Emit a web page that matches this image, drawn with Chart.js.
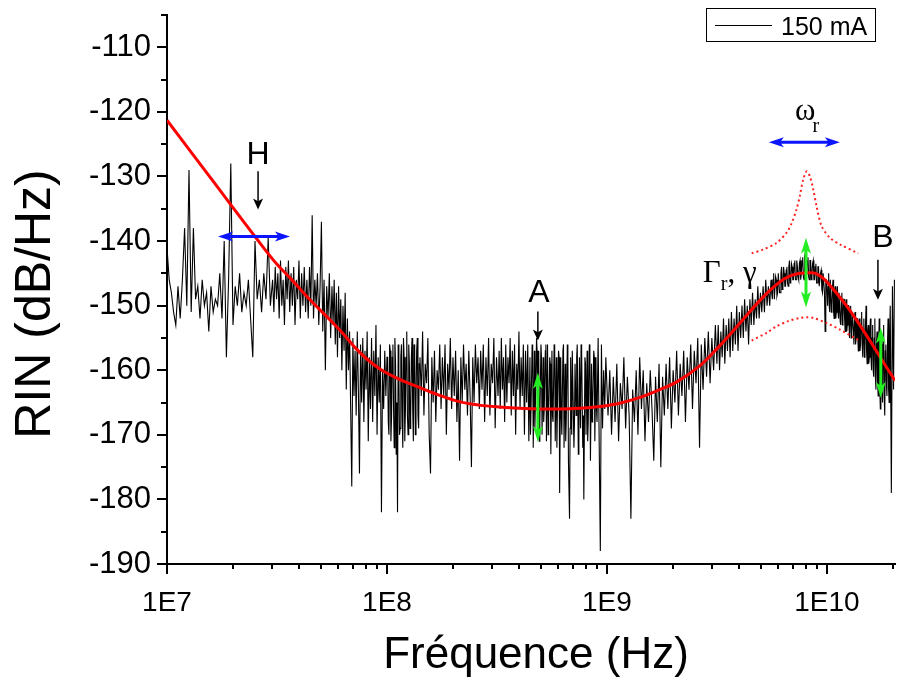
<!DOCTYPE html>
<html><head><meta charset="utf-8">
<script src="https://cdn.jsdelivr.net/npm/chart.js@4.4.1/dist/chart.umd.min.js"></script>
<style>html,body{margin:0;padding:0;background:#fff;}#wrap{width:898px;height:682px;}</style>
</head><body><div id="wrap"><canvas id="c" width="898" height="682"></canvas></div>
<script>
// ---------- DATA (log10 of frequency in Hz, RIN in dB/Hz) ----------
const seriesLabel = '150 mA';
const xTitle = 'Fréquence (Hz)';
const yTitle = 'RIN (dB/Hz)';
const xMajorTicks = [1e7, 1e8, 1e9, 1e10];
const xTickLabels = ['1E7', '1E8', '1E9', '1E10'];
const yMin = -190, yMax = -105;

const traceA = [[7.00,-141],[7.01,-146],[7.02,-148],[7.03,-151],[7.04,-153],[7.05,-147],[7.06,-152],[7.07,-146],[7.08,-138],[7.09,-150],[7.10,-129],[7.11,-151],[7.12,-138],[7.13,-149],[7.14,-147],[7.15,-152],[7.16,-146],[7.17,-150],[7.18,-148],[7.19,-154],[7.20,-147],[7.21,-151],[7.22,-149],[7.23,-150],[7.24,-145],[7.25,-152],[7.26,-140],[7.27,-158],[7.28,-146],[7.29,-128],[7.30,-153],[7.31,-147],[7.32,-150],[7.33,-145],[7.34,-151],[7.35,-148],[7.36,-150],[7.37,-146],[7.38,-152],[7.39,-158],[7.40,-140],[7.41,-149],[7.42,-146],[7.43,-151],[7.44,-145],[7.45,-149],[7.46,-139.5],[7.47,-150],[7.48,-146]];
const traceB = [[7.486,-151],[7.492,-144],[7.498,-149],[7.504,-145],[7.510,-152],[7.516,-143],[7.522,-150],[7.528,-146],[7.534,-153],[7.540,-144],[7.546,-149],[7.552,-143],[7.558,-151],[7.564,-145],[7.570,-150],[7.576,-144],[7.582,-153],[7.588,-146],[7.594,-149],[7.600,-143],[7.606,-152],[7.612,-145],[7.618,-150],[7.624,-144],[7.630,-151],[7.636,-146],[7.642,-152],[7.648,-144],[7.654,-150],[7.660,-136],[7.666,-152],[7.672,-146],[7.678,-150],[7.684,-145],[7.690,-153],[7.696,-147],[7.702,-137],[7.708,-154],[7.714,-146],[7.720,-160],[7.726,-147],[7.732,-152],[7.738,-145],[7.744,-155],[7.750,-147]];
const traceC = [[7.755,-153],[7.760,-146],[7.765,-156],[7.770,-148],[7.775,-158],[7.780,-147],[7.785,-155],[7.790,-149],[7.795,-160],[7.800,-150],[7.805,-157],[7.810,-148],[7.815,-163],[7.820,-152],[7.825,-160],[7.830,-154],[7.835,-166],[7.840,-178],[7.845,-155],[7.850,-164],[7.855,-157],[7.860,-167],[7.865,-154],[7.870,-163],[7.875,-176],[7.880,-156],[7.885,-165],[7.890,-155],[7.895,-168],[7.900,-157],[7.905,-163],[7.910,-154],[7.915,-171],[7.920,-158],[7.925,-166],[7.930,-155],[7.935,-168],[7.940,-157],[7.945,-164],[7.950,-153],[7.955,-170],[7.960,-158],[7.965,-165],[7.970,-156],[7.975,-182],[7.980,-160],[7.985,-166],[7.990,-157],[7.995,-164],[8.000,-158]];
const traceD = [[8.006,-168],[8.012,-156],[8.018,-171],[8.024,-158],[8.030,-166],[8.036,-155],[8.042,-173],[8.048,-182],[8.054,-160],[8.060,-169],[8.066,-156],[8.072,-172],[8.078,-158],[8.084,-166],[8.090,-154],[8.096,-170],[8.102,-159],[8.108,-167],[8.114,-155],[8.120,-171],[8.126,-157],[8.132,-165],[8.138,-155],[8.144,-169],[8.150,-158],[8.156,-164],[8.162,-154],[8.168,-167],[8.174,-159],[8.180,-162],[8.186,-155],[8.192,-170],[8.198,-176],[8.204,-158],[8.210,-165],[8.216,-157],[8.222,-168],[8.228,-160],[8.234,-163],[8.240,-156],[8.246,-166],[8.252,-158],[8.258,-164],[8.264,-156],[8.270,-170],[8.276,-159],[8.282,-163],[8.288,-155],[8.294,-166],[8.300,-158],[8.306,-164],[8.312,-157],[8.318,-168],[8.324,-160],[8.330,-174],[8.336,-158],[8.342,-165],[8.348,-156],[8.354,-163],[8.360,-159],[8.366,-167],[8.372,-157],[8.378,-164],[8.384,-175],[8.390,-158],[8.396,-165],[8.402,-156],[8.408,-162],[8.414,-158],[8.420,-166],[8.426,-157],[8.432,-163],[8.438,-156],[8.444,-168],[8.450,-158],[8.456,-164],[8.462,-155],[8.468,-167],[8.474,-159],[8.480,-162],[8.486,-155],[8.492,-169],[8.498,-158]];
const traceE = [[8.505,-164],[8.510,-157],[8.515,-166],[8.520,-155],[8.525,-163],[8.530,-158],[8.535,-168],[8.540,-156],[8.545,-165],[8.550,-158],[8.555,-162],[8.560,-155],[8.565,-167],[8.570,-157],[8.575,-164],[8.580,-156],[8.585,-170],[8.590,-159],[8.595,-163],[8.600,-154],[8.605,-166],[8.610,-158],[8.615,-164],[8.620,-156],[8.625,-170],[8.630,-157],[8.635,-165],[8.640,-156],[8.645,-171],[8.650,-158],[8.655,-166],[8.660,-156],[8.665,-172],[8.670,-157],[8.675,-165],[8.680,-155],[8.685,-169],[8.690,-157],[8.695,-168],[8.700,-156],[8.705,-170],[8.710,-158],[8.715,-166],[8.720,-157],[8.725,-171],[8.730,-156],[8.735,-167],[8.740,-158],[8.745,-173],[8.750,-157],[8.755,-168],[8.760,-156],[8.765,-171],[8.770,-158],[8.775,-166],[8.780,-157],[8.785,-179],[8.790,-158],[8.795,-170],[8.800,-157],[8.805,-172],[8.810,-159],[8.815,-168],[8.820,-156],[8.825,-174],[8.830,-183],[8.835,-158],[8.840,-170],[8.845,-157],[8.850,-172],[8.855,-159],[8.860,-167],[8.865,-156],[8.870,-173],[8.875,-158],[8.880,-169],[8.885,-157],[8.890,-172],[8.895,-180],[8.900,-158],[8.905,-170],[8.910,-157],[8.915,-168],[8.920,-156],[8.925,-174],[8.930,-159],[8.935,-166],[8.940,-157],[8.945,-171],[8.950,-158],[8.955,-168],[8.960,-155],[8.965,-172],[8.970,-188],[8.975,-156],[8.980,-169],[8.985,-160],[8.990,-166],[8.995,-158]];
const traceF = [[9.005,-167],[9.013,-160],[9.021,-170],[9.029,-161],[9.037,-168],[9.045,-159],[9.053,-171],[9.061,-162],[9.069,-166],[9.077,-158],[9.085,-169],[9.093,-161],[9.101,-167],[9.109,-183],[9.117,-163],[9.125,-168],[9.133,-160],[9.141,-170],[9.149,-158],[9.157,-166],[9.165,-160],[9.173,-171],[9.181,-162],[9.189,-168],[9.197,-160],[9.205,-166],[9.213,-174],[9.221,-161],[9.229,-168],[9.237,-159],[9.245,-175],[9.253,-161],[9.261,-167],[9.269,-159],[9.277,-166],[9.285,-158],[9.293,-169],[9.301,-160],[9.309,-165],[9.317,-157],[9.325,-167],[9.333,-159],[9.341,-164],[9.349,-157],[9.357,-168],[9.365,-158],[9.373,-163],[9.381,-156],[9.389,-166],[9.397,-157],[9.405,-162],[9.413,-155],[9.421,-172],[9.429,-156],[9.437,-163],[9.445,-155],[9.453,-161],[9.461,-154],[9.469,-162],[9.477,-155],[9.485,-160],[9.493,-153]];
const traceG = [[9.500,-159],[9.506,-153],[9.512,-160],[9.518,-154],[9.524,-158],[9.530,-152],[9.536,-159],[9.542,-153],[9.548,-157],[9.554,-152],[9.560,-158],[9.566,-151],[9.572,-157],[9.578,-152],[9.584,-156],[9.590,-150],[9.596,-157],[9.602,-151],[9.608,-155],[9.614,-150],[9.620,-155],[9.626,-149],[9.632,-154],[9.638,-150],[9.644,-156],[9.650,-149],[9.656,-153],[9.662,-148],[9.668,-153],[9.674,-149],[9.680,-152],[9.686,-147],[9.692,-152],[9.698,-148],[9.704,-151],[9.710,-147],[9.716,-151],[9.722,-146],[9.728,-150],[9.734,-147],[9.740,-150],[9.746,-146],[9.752,-149],[9.758,-145],[9.764,-149],[9.770,-146],[9.776,-148],[9.782,-145],[9.788,-148],[9.794,-144],[9.800,-147],[9.806,-145],[9.812,-147],[9.818,-144],[9.824,-147],[9.830,-143],[9.836,-146],[9.842,-144],[9.848,-146],[9.854,-143],[9.860,-146],[9.866,-144],[9.872,-146],[9.878,-143],[9.884,-145],[9.890,-142.5],[9.896,-146],[9.902,-143],[9.908,-145],[9.914,-142.5],[9.920,-146],[9.926,-143],[9.932,-145],[9.938,-143],[9.944,-146],[9.950,-143.5],[9.956,-146.5],[9.962,-144],[9.968,-147],[9.974,-144.5],[9.980,-148],[9.986,-145],[9.992,-154],[9.998,-146]];
const traceH = [[10.003,-150],[10.008,-145],[10.013,-151],[10.018,-146],[10.023,-150],[10.028,-146],[10.033,-152],[10.038,-147],[10.043,-151],[10.048,-147],[10.053,-152],[10.058,-148],[10.063,-153],[10.068,-148],[10.073,-152],[10.078,-149],[10.083,-154],[10.088,-149],[10.093,-153],[10.098,-150],[10.103,-155],[10.108,-150],[10.113,-154],[10.118,-151],[10.123,-156],[10.128,-151],[10.133,-155],[10.138,-152],[10.143,-157],[10.148,-152],[10.153,-156],[10.158,-151],[10.163,-158],[10.168,-152],[10.173,-157],[10.178,-150],[10.183,-159],[10.188,-153],[10.193,-158],[10.198,-152],[10.203,-160],[10.208,-153],[10.213,-161],[10.218,-152],[10.223,-163],[10.228,-154],[10.233,-164],[10.238,-152],[10.243,-166],[10.248,-155],[10.253,-165],[10.258,-153],[10.263,-167],[10.268,-156],[10.273,-164],[10.278,-152],[10.283,-165],[10.288,-150],[10.293,-179],[10.298,-147],[10.303,-163],[10.307,-146]];
// extra samples in the densest parts of the spectrum
const denseD = [[8.003,-158],[8.009,-170],[8.015,-157],[8.021,-167],[8.027,-156],[8.033,-172],[8.039,-159],[8.045,-165],[8.051,-156],[8.057,-170],[8.063,-158],[8.069,-166],[8.075,-155],[8.081,-171],[8.087,-158],[8.093,-167],[8.099,-156],[8.105,-169],[8.111,-158],[8.117,-166],[8.123,-156],[8.129,-170],[8.135,-157],[8.141,-167],[8.147,-159]];
const denseE = [[8.6525,-170],[8.6625,-158],[8.6725,-169],[8.6825,-157],[8.6925,-171],[8.7025,-158],[8.7125,-168],[8.7225,-156],[8.7325,-170],[8.7425,-159],[8.7525,-167],[8.7625,-157],[8.7725,-172],[8.7825,-158],[8.7925,-167],[8.8025,-156],[8.8125,-171],[8.8225,-158],[8.8325,-169],[8.8425,-157],[8.8525,-168],[8.8625,-158],[8.8725,-170],[8.8825,-156],[8.8925,-167],[8.9025,-159],[8.9125,-171],[8.9225,-157],[8.9325,-168],[8.9425,-158],[8.9525,-166]];
const denseG = [[9.749,-148],[9.755,-146],[9.761,-149],[9.767,-145.5],[9.773,-148.5],[9.779,-145],[9.785,-148],[9.791,-145],[9.797,-147.5],[9.803,-144],[9.809,-147],[9.815,-144.5],[9.821,-146.5],[9.827,-144],[9.833,-146.5],[9.839,-143.5],[9.845,-146],[9.851,-143.5],[9.857,-146],[9.863,-143],[9.869,-145.5],[9.875,-143.5],[9.881,-146],[9.887,-143],[9.893,-145.5],[9.899,-142.5],[9.905,-146],[9.911,-143],[9.917,-145.5],[9.923,-143],[9.929,-146],[9.935,-143.5],[9.941,-146],[9.947,-144],[9.953,-146.5],[9.959,-144],[9.965,-147],[9.971,-145],[9.977,-147.5],[9.983,-145],[9.989,-148],[9.995,-146]];
const denseH = [[10.0055,-147],[10.0105,-150],[10.0155,-146],[10.0205,-151],[10.0255,-147],[10.0305,-151],[10.0355,-147.5],[10.0405,-152],[10.0455,-148],[10.0505,-151],[10.0555,-148],[10.0605,-152.5],[10.0655,-149],[10.0705,-153],[10.0755,-149],[10.0805,-152],[10.0855,-150],[10.0905,-154],[10.0955,-150],[10.1005,-153],[10.1055,-151],[10.1105,-155],[10.1155,-151],[10.1205,-154],[10.1255,-152],[10.1305,-156],[10.1355,-152],[10.1405,-155],[10.1455,-153],[10.1505,-157],[10.1555,-153],[10.1605,-156],[10.1655,-154],[10.1705,-158],[10.1755,-153],[10.1805,-157],[10.1855,-154],[10.1905,-159],[10.1955,-154],[10.2005,-158],[10.2055,-155],[10.2105,-160],[10.2155,-155],[10.2205,-161],[10.2255,-156],[10.2305,-162],[10.2355,-156],[10.2405,-163],[10.2455,-157],[10.2505,-162],[10.2555,-156],[10.2605,-164],[10.2655,-157],[10.2705,-162],[10.2755,-156],[10.2805,-163],[10.2855,-154]];

const fitCurve = [[7.000,-121.3],[7.200,-130.3],[7.400,-139.3],[7.500,-143.6],[7.559,-145.7],[7.650,-149.1],[7.741,-152.2],[7.800,-154.3],[7.855,-156.5],[7.910,-158.3],[7.968,-159.8],[8.050,-161.3],[8.150,-162.7],[8.240,-163.9],[8.332,-164.9],[8.420,-165.4],[8.514,-165.7],[8.600,-165.9],[8.695,-166.0],[8.790,-166.0],[8.877,-165.9],[8.970,-165.6],[9.059,-165.1],[9.150,-164.2],[9.241,-163.0],[9.318,-161.8],[9.423,-159.3],[9.505,-156.5],[9.809,-145.8],[9.932,-144.9],[10.059,-148.7],[10.310,-161.6]];
const upperBound = [[9.658,-141.9],[9.711,-141.3],[9.771,-140.3],[9.817,-138.7],[9.840,-137.2],[9.862,-135.1],[9.877,-133.0],[9.892,-130.5],[9.908,-129.2],[9.923,-130.0],[9.938,-132.0],[9.953,-134.6],[9.976,-137.7],[10.014,-139.5],[10.059,-140.5],[10.142,-141.9]];
const lowerBound = [[9.658,-155.4],[9.726,-154.2],[9.771,-153.2],[9.824,-152.4],[9.877,-151.9],[9.908,-151.8],[9.938,-151.9],[9.999,-152.7],[10.059,-153.7],[10.142,-155.3]];

// ---------- BUILD ----------
const toXY = arr => arr.map(p => ({ x: Math.pow(10, p[0]), y: p[1] }));
const trace = [].concat(traceA, traceB, traceC, traceD, traceE, traceF, traceG, traceH, denseD, denseE, denseG, denseH)
  .sort((a, b) => a[0] - b[0]);
const SANS = "'Liberation Sans', Arial, sans-serif";
const SERIF = "'Liberation Serif', 'Times New Roman', serif";
const xMax = 2.04e10;

// annotation layout (data coordinates)
const notes = {
  textH: { lf: 7.414, db: -128.1, t: 'H' },
  arrowH: { lf: 7.414, from: -129.2, to: -135.1 },
  blueH: { from: 7.232, to: 7.559, db: -139.3 },
  textA: { lf: 8.691, db: -149.4, t: 'A' },
  arrowA: { lf: 8.686, from: -150.9, to: -155.4 },
  greenA: { lf: 8.686, from: -160.4, to: -171.1 },
  blueW: { from: 9.736, to: 10.059, db: -124.7 },
  textW: { lf: 9.855, db: -121.3 },
  textG: { lf: 9.436, db: -146.4 },
  greenPeak: { lf: 9.905, from: -139.5, to: -150.3 },
  textB: { lf: 10.255, db: -140.9, t: 'B' },
  arrowB: { lf: 10.232, from: -142.9, to: -149.1 },
  greenB: { lf: 10.245, from: -153.4, to: -164.3 }
};

function arrowHead(ctx, x, y, dx, dy, len, w) {
  const n = Math.hypot(dx, dy); const ux = dx / n, uy = dy / n;
  ctx.beginPath();
  ctx.moveTo(x, y);
  ctx.lineTo(x - ux * len - uy * w / 2, y - uy * len + ux * w / 2);
  ctx.lineTo(x - ux * len * 0.75, y - uy * len * 0.75);
  ctx.lineTo(x - ux * len + uy * w / 2, y - uy * len - ux * w / 2);
  ctx.closePath(); ctx.fill();
}
function arrow(ctx, x1, y1, x2, y2, color, lw, len, w, both) {
  ctx.save(); ctx.strokeStyle = color; ctx.fillStyle = color; ctx.lineWidth = lw;
  const dx = x2 - x1, dy = y2 - y1, n = Math.hypot(dx, dy);
  const ux = dx / n, uy = dy / n;
  const sx = both ? x1 + ux * len * 0.7 : x1, sy = both ? y1 + uy * len * 0.7 : y1;
  ctx.beginPath(); ctx.moveTo(sx, sy); ctx.lineTo(x2 - ux * len * 0.7, y2 - uy * len * 0.7); ctx.stroke();
  arrowHead(ctx, x2, y2, dx, dy, len, w);
  if (both) arrowHead(ctx, x1, y1, -dx, -dy, len, w);
  ctx.restore();
}

const decorPlugin = {
  id: 'decor',
  afterDraw(chart) {
    const ctx = chart.ctx, xs = chart.scales.x, ys = chart.scales.y, ca = chart.chartArea;
    const X = lf => xs.getPixelForValue(Math.pow(10, lf));
    const Y = db => ys.getPixelForValue(db);
    ctx.save();
    // tick marks (outward)
    ctx.strokeStyle = '#000'; ctx.lineWidth = 2;
    xs.ticks.forEach(t => {
      const px = Math.round(xs.getPixelForValue(t.value));
      const major = xMajorTicks.includes(t.value);
      ctx.beginPath(); ctx.moveTo(px, ca.bottom); ctx.lineTo(px, ca.bottom + (major ? 10 : 5)); ctx.stroke();
    });
    ys.ticks.forEach(t => {
      const py = Math.round(ys.getPixelForValue(t.value));
      const major = t.value % 10 === 0;
      ctx.beginPath(); ctx.moveTo(ca.left, py); ctx.lineTo(ca.left - (major ? 10 : 6), py); ctx.stroke();
    });
    // axis titles
    ctx.fillStyle = '#000';
    ctx.textAlign = 'center'; ctx.textBaseline = 'alphabetic';
    ctx.font = '44px ' + SANS;
    ctx.fillText(xTitle, 536, 668);
    ctx.font = '50px ' + SANS;
    ctx.save(); ctx.translate(50, 304); ctx.rotate(-Math.PI / 2); ctx.fillText(yTitle, 0, 0); ctx.restore();
    // legend
    ctx.lineWidth = 1; ctx.strokeStyle = '#000';
    ctx.strokeRect(706.5, 8.5, 169, 33);
    ctx.beginPath(); ctx.moveTo(715, 25.5); ctx.lineTo(772, 25.5); ctx.stroke();
    ctx.font = '25px ' + SANS; ctx.textAlign = 'left';
    ctx.fillText(seriesLabel, 781, 35);
    // annotations
    ctx.font = '32px ' + SANS; ctx.textAlign = 'center';
    [notes.textH, notes.textA, notes.textB].forEach(n => ctx.fillText(n.t, X(n.lf), Y(n.db)));
    [notes.arrowH, notes.arrowA, notes.arrowB].forEach(a => arrow(ctx, X(a.lf), Y(a.from), X(a.lf), Y(a.to), '#000', 1.5, 11, 10, false));
    [notes.blueH, notes.blueW].forEach(b => arrow(ctx, X(b.from), Y(b.db), X(b.to), Y(b.db), '#0a14ff', 3, 15, 10, true));
    [notes.greenA, notes.greenPeak, notes.greenB].forEach(g => arrow(ctx, X(g.lf), Y(g.from), X(g.lf), Y(g.to), '#22ee22', 3, 16, 10, true));
    // omega_r
    ctx.textAlign = 'left';
    ctx.font = '31px ' + SERIF; ctx.fillText('\u03C9', X(notes.textW.lf), Y(notes.textW.db));
    const wx = X(notes.textW.lf) + ctx.measureText('\u03C9').width - 3;
    ctx.font = '20px ' + SERIF; ctx.fillText('r', wx, Y(notes.textW.db) + 12);
    // Gamma_r, gamma
    const gx = X(notes.textG.lf), gy = Y(notes.textG.db);
    ctx.font = '31px ' + SERIF; ctx.fillText('\u0393', gx, gy);
    let cx = gx + ctx.measureText('\u0393').width;
    ctx.font = '20px ' + SERIF; ctx.fillText('r', cx, gy + 8);
    cx += ctx.measureText('r').width;
    ctx.font = '31px ' + SERIF; ctx.fillText(', \u03B3', cx, gy);
    ctx.restore();
  }
};

new Chart(document.getElementById('c'), {
  type: 'line',
  data: {
    datasets: [
      { label: seriesLabel, data: toXY(trace), borderColor: '#000', borderWidth: 1.1, pointRadius: 0, tension: 0, order: 3 },
      { label: 'fit', data: toXY(fitCurve), borderColor: '#ff0000', borderWidth: 3, pointRadius: 0, tension: 0.3, cubicInterpolationMode: 'monotone', order: 1 },
      { label: 'upper', data: toXY(upperBound), borderColor: '#ff2020', borderWidth: 2, borderDash: [2, 3], pointRadius: 0, tension: 0.3, order: 2 },
      { label: 'lower', data: toXY(lowerBound), borderColor: '#ff2020', borderWidth: 2, borderDash: [2, 3], pointRadius: 0, tension: 0.3, order: 2 }
    ]
  },
  options: {
    responsive: false, animation: false, devicePixelRatio: 1,
    layout: { padding: { top: 15, right: 3, left: 0, bottom: 0 } },
    plugins: { legend: { display: false }, tooltip: { enabled: false } },
    scales: {
      x: {
        type: 'logarithmic', min: 1e7, max: xMax,
        afterBuildTicks: s => {
          const t = [];
          for (let e = 7; e <= 10; e++) for (let m = 1; m <= 9; m++) { const v = m * Math.pow(10, e); if (v <= xMax) t.push({ value: v }); }
          s.ticks = t;
        },
        afterFit: s => { s.height = 118; s.paddingLeft = 0; s.paddingRight = 0; },
        grid: { display: true, drawOnChartArea: false, drawTicks: false, tickLength: 0 },
        border: { display: true, color: '#000', width: 2 },
        ticks: {
          autoSkip: false, maxRotation: 0, padding: 22, color: '#000',
          font: { family: SANS, size: 28 },
          callback: v => { const i = xMajorTicks.indexOf(v); return i >= 0 ? xTickLabels[i] : ''; }
        }
      },
      y: {
        type: 'linear', min: yMin, max: yMax,
        afterFit: s => { s.width = 167; s.paddingTop = 0; s.paddingBottom = 0; },
        grid: { display: true, drawOnChartArea: false, drawTicks: false, tickLength: 0 },
        border: { display: true, color: '#000', width: 2 },
        ticks: {
          stepSize: 5, autoSkip: false, padding: 16, color: '#000',
          font: { family: SANS, size: 31 },
          callback: v => (v % 10 === 0 ? String(v) : '')
        }
      }
    }
  },
  plugins: [decorPlugin]
});
</script></body></html>
